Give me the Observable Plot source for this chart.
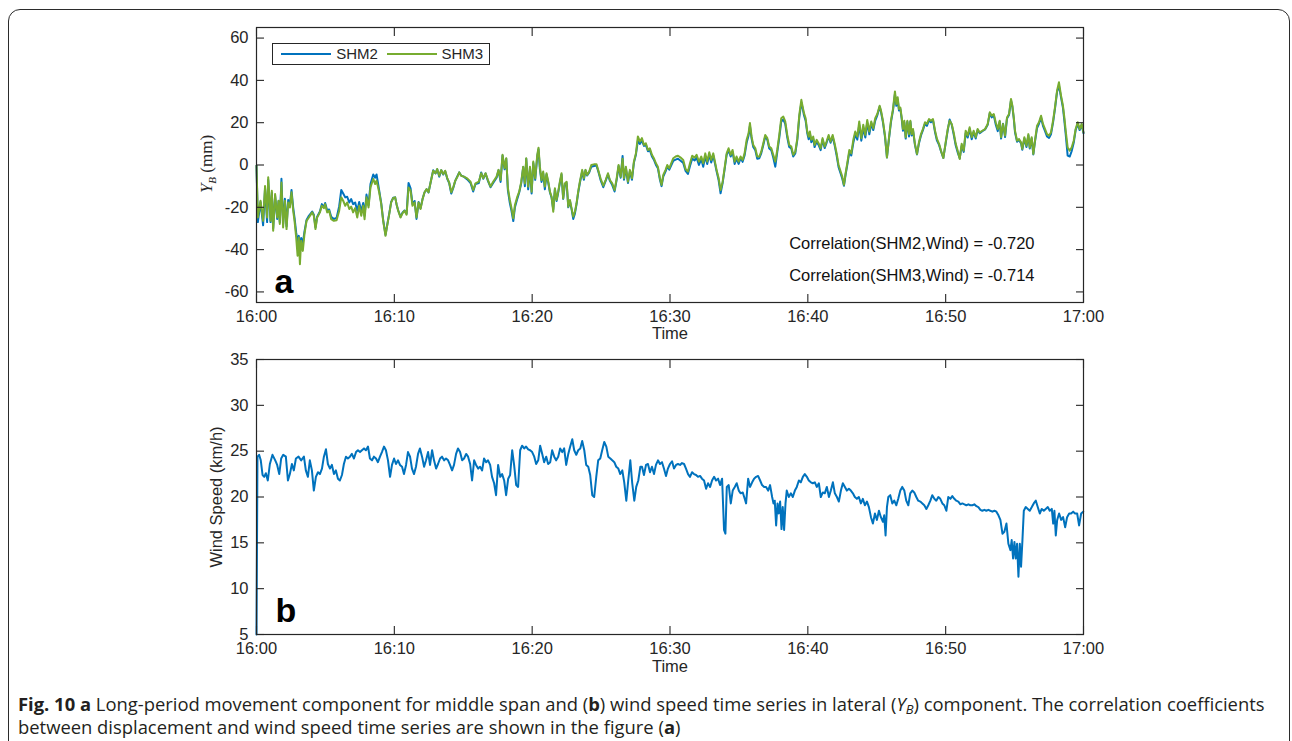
<!DOCTYPE html>
<html>
<head>
<meta charset="utf-8">
<script src="https://cdn.jsdelivr.net/npm/d3@7"></script>
<script src="https://cdn.jsdelivr.net/npm/@observablehq/plot@0.6"></script>
<style>
html, body { margin: 0; padding: 0; background: #fff; }
body { width: 1292px; height: 741px; overflow: hidden; position: relative; }
#border { position: absolute; left: 8px; top: 9px; width: 1282px; height: 800px; border: 1.5px solid #2b2b2b; border-radius: 12px; box-sizing: border-box; }
#panelA { position: absolute; left: 0; top: 0; }
#panelB { position: absolute; left: 0; top: 330px; }
#legend { position: absolute; left: 272px; top: 43px; width: 218px; height: 22px; border: 1.5px solid #262626; box-sizing: border-box; background: #fff;
  font-family: 'Liberation Sans', Arial, sans-serif; font-size: 15px; color: #262626; }
#legend .ln { position: absolute; top: 8.5px; width: 50px; height: 2px; }
#legend .lb { position: absolute; top: -0.5px; line-height: 19px; white-space: nowrap; }
#caption { position: absolute; left: 18px; top: 692px; font-family: 'Open Sans', 'Noto Sans', sans-serif; font-size: 18.4px; line-height: 23px; color: #231f20; white-space: nowrap; }
#caption sub { font-size: 13px; line-height: 0; vertical-align: -3px; }
</style>
</head>
<body>
<div id="border"></div>
<div id="panelA"></div>
<div id="panelB"></div>
<div id="legend"></div>
<div id="caption"><b>Fig. 10 a</b> Long-period movement component for middle span and (<b>b</b>) wind speed time series in lateral (<i>Y<sub>B</sub></i>) component. The correlation coefficients<br>between displacement and wind speed time series are shown in the figure (<b>a</b>)</div>
<script>
// ---------- axis ticks ----------
const xTicks = [0, 10, 20, 30, 40, 50, 60];
const xTickLabels = ["16:00", "16:10", "16:20", "16:30", "16:40", "16:50", "17:00"];
const yTicksA = [-60, -40, -20, 0, 20, 40, 60];
const yTicksB = [5, 10, 15, 20, 25, 30, 35];
const seriesNames = ["SHM2", "SHM3"];
const corrLabels = ["Correlation(SHM2,Wind) = -0.720", "Correlation(SHM3,Wind) = -0.714"];

// ---------- panel a: minutes after 16:00 ----------
const tA = [
0.00,0.10,0.29,0.48,0.62,0.77,0.85,1.02,1.11,1.21,
1.35,1.50,1.60,1.69,1.81,1.93,2.06,2.18,2.30,2.42,
2.54,2.66,2.76,2.88,2.98,3.07,3.15,3.24,3.36,3.48,
3.63,3.80,4.04,4.16,4.28,4.40,4.60,4.74,4.89,4.98,
5.13,5.27,5.42,5.61,5.81,6.00,6.15,6.29,6.44,6.58,
6.73,6.87,7.01,7.16,7.31,7.45,7.60,7.74,7.84,7.98,
8.13,8.27,8.47,8.61,8.71,8.80,8.90,9.05,9.19,9.36,
9.48,9.63,9.77,9.92,10.06,10.16,10.28,10.45,10.59,10.74,
10.89,11.03,11.18,11.32,11.47,11.61,11.76,11.90,12.05,12.19,
12.34,12.48,12.63,12.82,12.99,13.11,13.26,13.40,13.55,13.69,
13.84,13.98,14.13,14.27,14.42,14.56,14.71,14.85,
15.04,15.29,15.53,15.72,15.89,16.13,16.30,16.45,16.62,16.79,
16.98,17.17,17.42,17.56,17.71,17.85,18.00,18.12,18.24,18.38,
18.48,18.63,18.75,18.92,19.06,19.21,19.35,19.47,19.57,19.71,
19.84,19.96,20.08,20.22,20.37,20.46,20.56,20.68,20.80,20.92,
21.04,21.17,21.29,21.41,21.53,21.65,21.77,21.89,22.01,22.13,
22.25,22.37,22.50,22.62,22.74,22.86,22.98,23.10,23.22,23.34,
23.46,23.63,23.75,23.87,23.99,24.14,24.29,24.48,24.67,24.82,
24.96,25.16,25.33,25.50,25.64,25.81,25.98,26.13,26.27,26.42,
26.56,26.66,26.80,26.95,27.09,27.24,27.38,27.53,27.67,27.82,
27.96,28.11,28.25,28.40,28.54,28.69,28.83,28.98,29.12,29.27,
29.39,29.51,29.68,29.80,29.95,
30.24,30.41,30.58,30.77,30.96,31.13,31.30,31.45,31.61,31.79,
31.93,32.10,32.27,32.41,32.56,32.70,32.85,32.99,33.14,33.26,
33.38,33.53,33.67,33.82,33.96,34.11,34.25,34.40,34.54,34.69,
34.83,34.98,35.12,35.27,35.41,35.56,35.70,35.80,35.92,36.04,
36.19,36.33,36.48,36.62,36.77,36.91,37.06,37.20,37.35,37.49,
37.64,37.78,37.93,38.07,38.22,38.36,38.51,38.65,38.80,38.94,
39.09,39.24,39.38,39.53,39.62,39.72,39.84,39.96,40.06,40.15,
40.25,40.39,40.49,40.64,40.78,40.93,41.07,41.22,41.36,41.51,
41.65,41.80,41.94,42.09,42.23,42.38,42.50,42.62,42.74,42.86,
43.01,43.15,43.30,43.44,43.59,43.73,43.88,44.02,44.17,44.31,
44.46,44.60,44.75,44.89,
45.04,45.21,45.31,45.45,45.60,45.74,45.89,46.03,46.18,46.32,
46.42,46.52,46.61,46.71,46.81,46.90,47.00,47.10,47.22,47.34,
47.44,47.53,47.63,47.77,47.92,48.06,48.21,48.35,48.50,48.64,
48.79,48.93,49.08,49.23,49.37,49.52,49.66,49.83,50.00,50.15,
50.29,50.44,50.58,50.73,50.87,51.02,51.16,51.31,51.45,51.60,
51.74,51.89,52.03,52.18,52.32,52.47,52.66,52.86,53.05,53.20,
53.34,53.49,53.63,53.78,53.92,54.02,54.16,54.31,54.45,54.60,
54.74,54.84,54.94,55.03,55.18,55.32,55.47,55.56,55.71,55.86,
56.00,56.10,56.24,56.36,56.48,56.63,56.77,56.92,57.06,57.21,
57.35,57.50,57.64,57.79,57.93,58.08,58.22,58.37,58.51,58.61,
58.71,58.85,59.00,59.14,59.29,59.43,59.58,59.72,59.87,60.00
];

// Y_B displacement (mm), SHM3 (green)
const shm3 = [
-0.3,-24.8,-16.9,-26.4,-9.9,-24.8,-5.8,-26.4,-12.2,-31.1,
-13.7,-24.8,-16.9,-27.9,-8.3,-29.5,-16.9,-30.3,-17.7,-20.1,
-12.9,-21.6,-26.4,-34.3,-42.9,-34.3,-46.9,-35.8,-40.6,-32.7,
-26.4,-24.8,-22.4,-24.0,-30.3,-24.8,-22.4,-19.3,-20.4,-18.5,
-22.4,-21.6,-25.6,-26.4,-26.1,-21.6,-15.3,-16.9,-19.3,-17.7,
-20.8,-19.7,-22.4,-20.4,-24.8,-19.3,-24.0,-19.3,-25.6,-15.3,
-20.1,-10.6,-6.6,-9.0,-7.4,-9.9,-12.9,-18.5,-26.4,-33.5,
-28.7,-23.2,-17.7,-15.6,-15.3,-18.5,-21.6,-24.8,-22.9,-21.6,
-23.5,-10.6,-12.2,-19.3,-17.7,-24.8,-17.7,-20.8,-16.1,-12.9,
-11.4,-12.9,-8.3,-2.7,-3.9,-1.9,-5.1,-2.4,-4.3,-2.7,
-6.2,-8.3,-12.9,-10.6,-7.4,-5.8,-3.5,-5.1,
-5.5,-6.3,-7.9,-11.8,-8.7,-7.9,-3.9,-6.3,-3.9,-7.1,
-10.2,-7.9,-5.5,-2.3,-7.1,4.8,-1.5,3.2,-11.0,-16.5,
-19.7,-25.2,-18.9,-15.0,-12.6,-7.9,-0.8,-8.7,3.2,-10.2,
-0.8,-12.6,1.6,-6.3,4.8,8.2,-0.8,-7.1,-3.1,-10.2,
-3.9,-7.9,-12.6,-15.0,-22.1,-11.0,-16.5,-12.6,-7.9,-3.9,
-15.8,-8.7,-7.9,-19.7,-16.5,-20.5,-24.4,-22.1,-18.1,-12.6,
-7.9,-2.3,-6.3,-2.3,-4.7,-3.1,0.0,0.3,0.3,-3.1,
-6.3,-9.8,-7.1,-3.9,-7.1,-8.7,-11.8,-6.3,0.0,-5.5,
3.0,-6.3,-0.8,-7.9,-2.3,-6.3,1.6,5.6,13.5,11.1,
12.7,9.5,10.3,7.1,7.9,4.8,3.2,0.8,-0.8,-6.3,
-9.4,-4.7,-2.3,0.0,-1.5,
3.2,4.0,4.4,3.5,2.4,-1.9,-3.1,0.8,4.4,3.5,
4.8,1.6,4.0,0.8,5.5,1.6,6.0,2.4,5.5,1.6,
-2.3,-6.3,-11.8,-7.9,-1.5,5.5,7.9,4.8,7.1,1.6,
4.0,1.6,4.0,2.4,5.5,11.9,15.0,19.8,13.4,9.5,
7.9,4.0,4.0,6.3,10.3,14.2,12.7,8.7,7.9,4.8,
1.6,7.1,14.2,22.1,22.9,20.6,14.2,9.5,8.7,4.8,
6.3,12.7,23.7,30.8,27.7,24.5,22.1,15.8,13.4,15.8,
11.9,13.4,9.5,11.9,10.3,7.9,12.7,8.7,11.1,14.2,
11.1,14.2,10.3,5.5,0.0,-3.1,-5.5,-9.4,-3.9,0.8,
7.1,5.5,11.9,15.8,13.4,20.6,12.7,19.0,14.2,21.3,
15.8,20.6,17.4,22.1,
24.1,28.0,25.7,20.9,13.9,3.6,13.1,20.9,26.5,34.8,
28.8,32.0,26.5,27.2,22.5,17.0,20.9,13.1,20.9,14.6,
20.9,14.6,17.0,10.0,5.2,10.7,14.6,17.0,20.2,19.4,
21.7,20.9,21.7,16.2,12.3,10.0,6.8,3.3,10.7,17.0,
20.9,19.4,15.4,10.0,6.8,2.8,10.0,6.8,16.2,13.9,
17.8,13.1,16.2,13.1,17.0,15.4,16.2,17.0,19.4,24.9,
23.3,24.1,20.2,17.0,20.9,13.1,19.4,13.9,22.5,24.1,
31.2,28.0,22.5,16.2,11.5,12.3,10.7,7.6,13.1,9.1,
14.6,8.3,13.1,5.2,11.5,18.6,20.2,23.3,19.4,17.0,
14.6,13.9,15.4,20.9,27.2,35.1,39.1,32.8,28.0,22.5,
16.2,8.3,6.8,8.3,11.5,17.0,20.2,17.0,19.4,15.4
];

// Y_B displacement (mm), SHM2 (blue)
const shm2 = [
-0.3,-27,-17.5,-28.5,-11,-27,-7,-27,-13,-30,
-14.5,-25.5,-17,-27,-6.5,-28,-16,-29,-16.5,-19,
-11.8,-20,-25,-32,-36,-33.5,-40,-34.5,-37,-31.5,
-26,-24,-22,-23.5,-29.5,-24.5,-22,-18.5,-20,-18,
-21.5,-21,-24.5,-25.5,-25,-19.5,-11.8,-13.5,-15.3,-15,
-17.7,-16.1,-18.5,-17.7,-21.6,-17.5,-22,-18,-24,-14,
-19,-9,-4.5,-6,-4.5,-8,-12,-18,-26,-33,
-28.5,-23,-17.5,-15.5,-15.3,-18.5,-21.5,-24.5,-22.5,-21.5,
-23,-8.5,-11,-18.5,-17,-25.5,-17.5,-20.5,-16,-13,
-11.5,-13,-8.3,-2.5,-4,-2,-5.5,-2.5,-4.5,-3,
-6.5,-8.5,-13.5,-11,-7.5,-5.5,-3.5,-5,
-5.5,-6.8,-8.5,-12.5,-9,-8.5,-3.5,-6.5,-4,-7.5,
-10.5,-8.5,-6,-2.5,-8,4.5,-2,3,-12,-18,
-21,-26.5,-20,-16,-13,-8.5,-1,-10,3,-11.5,
-1.5,-13.5,1,-7,4,7.5,-2,-8,-4,-11.5,
-4.5,-8.5,-13,-15.5,-21,-11.5,-17,-13,-8.5,-4.5,
-16,-9.5,-8.5,-20,-17,-21,-25.5,-23,-18.5,-13,
-8.5,-3,-7,-2.5,-5,-3.5,-0.8,-0.5,-0.3,-3.5,
-7,-10.5,-7.5,-4.5,-7.5,-9.5,-12.5,-7,-0.5,-6,
4.3,-7,-1.5,-8.5,-3,-7,1,5,11.5,10,
11.5,9,9.5,6.5,7,4,2.5,0,-1.5,-7,
-10,-5.5,-3,-0.8,-2.2,
2,2.5,3,2,1,-2.8,-4.2,-0.5,3,2.2,
3.5,0,2.8,-0.8,4.2,0.5,5,1.2,4.5,0.8,
-3,-7.2,-13.4,-8.5,-2.2,4.8,7,4,6.2,0.5,
3,0.5,3.2,1.5,4.5,10.5,14,18.5,12.5,8.5,
7,3,3.2,5.5,9.5,13.5,12,7.8,7,3.5,
-0.8,6,13,20.5,21.5,19.5,13,8.5,7.8,4,
5.5,12,22.5,29.5,27,23.5,21,15,12.2,14.8,
10.8,12.5,8.5,11,9.5,7,12,8,10.5,13.5,
10.5,13.5,9.5,4.5,-1,-4,-6.5,-9.8,-4.5,0,
6,4.5,10.5,14.5,12,19,11.5,17.5,13,20,
14.5,19.5,16.5,21,
23.5,27.5,25,20.2,13.2,3.6,12.5,20.2,25.8,33.5,
28,31,25.8,26.5,21.8,16.2,20,12.5,20.5,13.5,
20.5,14,16.5,9.5,5,10.2,14,16.5,19.5,18.5,
21.2,20.2,21.2,15.5,11.5,9.5,6.5,3.3,10.2,16.5,
21.5,19,14.5,9.2,6,3.2,9,6.2,15,13,
17,12.2,15.5,12.5,16.5,15,16,16.8,19,24.5,
22.5,23.5,19.2,16,20.5,12.5,19.5,13.2,22,23.8,
30.5,27.5,22,15.5,11,11.8,10.2,7.2,12.5,8.5,
14,7.8,12.5,5,11,17.5,19.5,22.5,18.5,16,
13.5,12.8,14.5,20,26.5,34.5,37.5,32,27,21,
14.5,4.4,4.0,6.5,10.5,16.5,19.5,16.5,19,15
];

// ---------- panel b: wind speed (km/h) ----------
const windT = [
0.00,0.07,0.19,0.31,0.44,0.56,0.68,0.82,0.97,1.16,
1.36,1.50,1.65,1.79,1.94,2.13,2.28,2.42,2.57,2.71,
2.86,3.05,3.24,3.44,3.58,3.73,3.87,4.02,4.16,4.31,
4.46,4.60,4.75,4.89,5.04,5.18,5.33,5.47,5.62,5.76,
5.91,6.05,6.20,6.34,6.49,6.63,6.78,6.92,7.07,7.22,
7.36,7.51,7.65,7.80,7.94,8.09,8.23,8.38,8.52,8.67,
8.81,8.96,9.10,9.25,9.39,9.54,9.69,9.83,9.98,10.12,
10.27,10.41,10.56,10.70,10.85,10.99,11.14,11.28,11.43,11.57,
11.72,11.86,12.01,12.16,12.30,12.45,12.59,12.74,12.88,13.03,
13.17,13.32,13.46,13.61,13.75,13.90,14.04,14.19,14.33,14.48,
14.62,14.77,14.92,15.06,15.21,15.35,15.50,15.64,15.79,15.93,
16.08,16.22,16.37,16.51,16.66,16.80,16.95,17.09,17.24,17.38,
17.53,17.68,17.82,17.97,18.11,18.26,18.40,18.55,18.69,18.84,
18.98,19.13,19.27,19.42,19.56,19.71,19.85,20.00,20.15,20.29,
20.44,20.58,20.73,20.87,21.02,21.16,21.31,21.45,21.60,21.74,
21.89,22.03,22.18,22.32,22.47,22.62,22.76,22.91,23.05,23.20,
23.34,23.49,23.63,23.78,23.92,24.07,24.21,24.36,24.50,24.65,
24.79,24.94,25.08,25.23,25.38,25.52,25.67,25.81,25.96,26.10,
26.25,26.39,26.54,26.68,26.83,26.97,27.12,27.26,27.41,27.55,
27.70,27.85,
27.97,28.11,28.26,28.40,28.55,28.69,28.84,28.98,29.13,29.27,
29.42,29.56,29.71,29.85,30.00,30.15,30.29,30.44,30.58,30.73,
30.87,31.02,31.16,31.31,31.45,31.60,31.74,31.89,32.03,32.18,
32.32,32.47,32.62,32.76,32.91,33.05,33.20,33.34,33.49,33.63,
33.78,33.92,34.02,34.12,34.26,34.41,34.55,34.70,34.84,34.99,
35.13,35.28,35.42,35.52,35.67,35.81,35.96,36.10,36.25,36.39,
36.54,36.68,36.83,36.97,37.12,37.26,37.41,37.51,37.60,37.70,
37.80,37.89,37.99,38.09,38.18,38.28,38.38,38.47,38.62,38.77,
38.91,39.06,39.20,39.35,39.49,39.64,39.78,39.93,40.07,40.22,
40.36,40.51,40.65,40.80,40.94,41.09,41.23,41.38,41.53,41.67,
41.82,41.96,42.11,42.25,42.40,42.54,42.69,42.83,42.98,43.12,
43.27,43.41,43.56,43.70,43.85,43.99,44.14,44.29,44.43,44.58,
44.72,44.87,45.01,45.16,45.30,45.45,45.54,45.64,45.74,45.84,
45.98,46.13,46.27,46.42,46.56,46.71,46.85,47.00,47.14,47.29,
47.43,47.58,47.72,47.87,48.01,48.16,48.31,48.45,48.60,48.74,
48.89,49.03,49.18,49.32,49.47,49.61,49.76,49.90,50.05,50.19,
50.34,50.48,50.63,50.77,50.92,51.07,51.21,51.36,51.50,51.65,
51.79,51.94,52.08,52.23,52.37,52.52,52.66,52.81,52.95,53.10,
53.24,53.39,53.54,53.68,53.83,53.97,54.12,54.26,54.41,54.55,
54.70,54.79,54.89,54.99,55.08,55.18,55.28,55.38,55.47,55.57,
55.67,55.81,55.96,56.10,56.25,56.39,56.54,56.68,56.83,56.97,
57.12,57.26,57.41,57.55,57.70,57.80,57.89,57.99,58.09,58.23,
58.38,58.52,58.67,58.81,58.96,59.10,59.25,59.39,59.54,59.68,
59.83,59.98
];

const wind = [
5,24.4,24.6,24.0,22.4,22.2,22.6,21.8,23.6,24.6,
24.0,23.5,22.5,24.2,24.6,24.4,21.8,22.5,23.6,22.9,
24.2,24.4,24.0,24.4,22.9,22.2,24.0,22.9,20.7,22.2,
22.7,22.5,23.1,24.4,25.2,23.6,23.1,23.5,22.5,22.9,
22.0,21.8,22.4,23.6,24.4,24.2,24.4,24.7,24.2,24.9,
25.1,24.9,25.1,25.3,25.1,25.5,24.2,24.0,24.4,24.2,
23.8,24.4,24.9,25.5,25.1,24.0,22.2,23.5,24.2,23.6,
24.0,23.5,23.3,22.5,23.5,24.9,24.4,23.1,22.5,23.3,
24.7,25.3,24.4,23.3,24.0,24.9,23.5,25.1,24.0,23.1,
23.6,24.2,24.4,24.0,24.2,24.0,23.5,22.9,23.5,24.7,
25.3,24.9,24.0,24.2,24.7,24.4,23.6,21.8,24.0,23.5,
23.1,23.3,22.9,24.2,23.8,24.0,23.5,22.2,21.5,20.2,
23.5,22.2,22.5,21.8,20.2,22.0,22.4,25.1,23.5,21.3,
21.1,25.1,25.6,25.3,25.5,25.2,25.1,24.9,24.4,23.6,
24.0,25.6,24.7,23.8,24.4,23.6,23.8,25.1,24.4,24.0,
24.4,25.3,24.9,25.3,23.5,24.7,25.5,26.3,25.1,24.6,
25.1,25.3,26.1,25.1,23.5,23.3,22.4,20.2,20.0,22.2,
24.0,24.2,25.1,26.0,25.5,24.4,24.2,24.0,23.8,23.3,
23.1,22.5,22.9,21.6,19.6,21.8,24.0,21.5,19.6,21.1,
21.8,23.3,
23.3,22.4,23.5,23.6,22.7,23.3,22.5,23.5,24.0,23.6,
23.8,23.1,22.3,23.1,23.6,23.9,23.1,23.5,23.6,23.5,
23.7,23.6,23.1,22.5,22.2,22.7,22.5,22.4,22.2,22.3,
22.0,21.8,20.9,21.5,21.1,21.8,22.2,21.8,22.0,21.3,
22.0,16.4,16.0,21.1,21.3,19.3,20.7,21.1,21.5,20.7,
20.4,20.5,19.8,19.3,22.0,21.1,21.6,22.0,22.2,22.3,
21.8,21.3,21.1,21.1,20.7,21.3,20.0,19.3,19.6,16.9,
19.3,18.2,19.5,16.5,18.9,16.4,19.3,20.7,20.0,20.4,
20.0,20.7,21.1,21.8,21.6,22.2,22.5,22.2,21.8,21.6,
21.5,21.6,21.1,21.5,20.0,20.5,20.4,21.1,20.0,20.7,
21.6,20.4,20.0,19.5,20.7,21.5,21.1,20.7,20.9,20.7,
20.4,20.0,19.8,20.0,19.3,19.8,19.1,19.5,18.9,17.8,
17.1,18.2,17.5,18.5,17.8,17.3,18.0,15.8,18.9,20.0,
20.2,19.3,19.6,19.1,19.8,20.7,21.1,20.7,19.6,19.1,
20.4,20.7,20.5,20.0,19.6,19.5,19.3,19.1,18.7,19.1,
19.6,20.2,19.8,19.6,20.0,19.8,19.3,19.1,18.5,20.0,
19.8,20.1,19.8,19.6,19.5,19.2,19.3,19.2,19.1,19.2,
19.1,19.1,19.2,19.0,18.9,18.6,18.5,18.6,18.5,18.6,
18.5,18.4,18.5,18.4,18.0,17.5,16.0,16.2,17.1,14.9,
14.2,15.3,13.3,15.1,13.3,14.9,11.3,14.9,12.4,15.3,
18.5,18.9,18.7,18.5,18.9,19.3,19.6,18.9,18.2,18.7,
18.5,18.7,18.9,18.5,18.7,17.1,18.5,15.8,17.5,18.2,
17.5,17.8,16.7,17.8,18.2,18.2,18.4,18.2,18.2,16.9,
18.2,18.4
];

// ---------- styling ----------
const blue = "#0072BD";
const green = "#77AC30";
const axisColor = "#262626";
const W = 1292;
const frameLeft = 256, frameRight = 1083;
const tickLen = 8;
const font = "'Liberation Sans', Arial, Helvetica, sans-serif";

function frameAxes(yTicks) {
  const blank = () => "";
  return [
    Plot.frame({stroke: axisColor, strokeWidth: 1.2}),
    Plot.axisX(xTicks, {anchor: "bottom", tickSize: tickLen, dy: -tickLen, tickFormat: blank, label: null, stroke: axisColor, strokeWidth: 1.1}),
    Plot.axisX(xTicks, {anchor: "top", tickSize: tickLen, dy: tickLen, tickFormat: blank, label: null, stroke: axisColor, strokeWidth: 1.1}),
    Plot.axisY(yTicks, {anchor: "left", tickSize: tickLen, dx: tickLen, tickFormat: blank, label: null, stroke: axisColor, strokeWidth: 1.1}),
    Plot.axisY(yTicks, {anchor: "right", tickSize: tickLen, dx: -tickLen, tickFormat: blank, label: null, stroke: axisColor, strokeWidth: 1.1}),
    Plot.axisX(xTicks, {anchor: "bottom", tickSize: 0, tickPadding: 8, tickFormat: d => xTickLabels[xTicks.indexOf(d)], label: null, fill: axisColor, fontSize: 16.5}),
    Plot.axisY(yTicks, {anchor: "left", tickSize: 0, tickPadding: 8, tickFormat: d => String(d), label: null, fill: axisColor, fontSize: 16.5})
  ];
}

const plotStyle = {fontFamily: font, fontSize: "16.5px", color: axisColor, background: "transparent", overflow: "visible"};

// ---------- panel a ----------
const plotA = Plot.plot({
  width: W, height: 352,
  marginLeft: frameLeft, marginRight: W - frameRight, marginTop: 27, marginBottom: 50,
  x: {domain: [0, 60]},
  y: {domain: [-65, 65]},
  style: plotStyle,
  marks: [
    Plot.lineY(shm2, {x: tA, stroke: blue, strokeWidth: 2}),
    Plot.lineY(shm3, {x: tA, stroke: green, strokeWidth: 2}),
    ...frameAxes(yTicksA),
    Plot.text(["Time"], {frameAnchor: "bottom", dy: 25, lineAnchor: "top", text: d => d, fontSize: 16.5, fill: axisColor}),
    Plot.text([corrLabels[0]], {frameAnchor: "bottom-right", textAnchor: "end", lineAnchor: "middle", dx: -49, dy: -59, text: d => d, fontSize: 16.5, fill: "#111"}),
    Plot.text([corrLabels[1]], {frameAnchor: "bottom-right", textAnchor: "end", lineAnchor: "middle", dx: -49, dy: -27, text: d => d, fontSize: 16.5, fill: "#111"}),
    Plot.text(["a"], {frameAnchor: "bottom-left", textAnchor: "start", lineAnchor: "bottom", dx: 18, dy: -10, text: d => d, fontSize: 34, fontWeight: "bold", fill: "#000"})
  ]
});
document.getElementById("panelA").appendChild(plotA);

// y label with italic Y and subscript B
{
  const t = d3.select(plotA).append("text")
    .attr("transform", "translate(212,164) rotate(-90)")
    .attr("text-anchor", "middle")
    .attr("font-family", "'Liberation Serif', 'Times New Roman', serif")
    .attr("font-size", 17)
    .attr("fill", axisColor);
  t.append("tspan").attr("font-style", "italic").text("Y");
  t.append("tspan").attr("font-style", "italic").attr("font-size", 11).attr("dy", 4).text("B");
  t.append("tspan").attr("dy", -4).text(" (mm)");
}

// ---------- panel b ----------
const plotB = Plot.plot({
  width: W, height: 354,
  marginLeft: frameLeft, marginRight: W - frameRight, marginTop: 29, marginBottom: 50,
  x: {domain: [0, 60]},
  y: {domain: [5, 35]},
  style: plotStyle,
  marks: [
    Plot.lineY(wind, {x: windT, stroke: blue, strokeWidth: 2}),
    ...frameAxes(yTicksB),
    Plot.text(["Time"], {frameAnchor: "bottom", dy: 26, lineAnchor: "top", text: d => d, fontSize: 16.5, fill: axisColor}),
    Plot.text(["b"], {frameAnchor: "bottom-left", textAnchor: "start", lineAnchor: "bottom", dx: 19, dy: -13, text: d => d, fontSize: 34, fontWeight: "bold", fill: "#000"})
  ]
});
document.getElementById("panelB").appendChild(plotB);
d3.select(plotB).append("text")
  .attr("transform", "translate(222,167) rotate(-90)")
  .attr("text-anchor", "middle")
  .attr("font-family", font)
  .attr("font-size", 16.5)
  .attr("fill", axisColor)
  .text("Wind Speed (km/h)");

// ---------- legend ----------
{
  const lg = document.getElementById("legend");
  const items = [{name: seriesNames[0], color: blue, line: 8.2, text: 63.2}, {name: seriesNames[1], color: green, line: 113.5, text: 168.5}];
  for (const it of items) {
    const ln = document.createElement("div");
    ln.className = "ln"; ln.style.left = it.line + "px"; ln.style.background = it.color;
    lg.appendChild(ln);
    const lb = document.createElement("div");
    lb.className = "lb"; lb.style.left = it.text + "px"; lb.textContent = it.name;
    lg.appendChild(lb);
  }
}
if (tA.length !== shm2.length || tA.length !== shm3.length || windT.length !== wind.length) {
  console.error("length mismatch", tA.length, shm2.length, shm3.length, windT.length, wind.length);
}
</script>
</body>
</html>
